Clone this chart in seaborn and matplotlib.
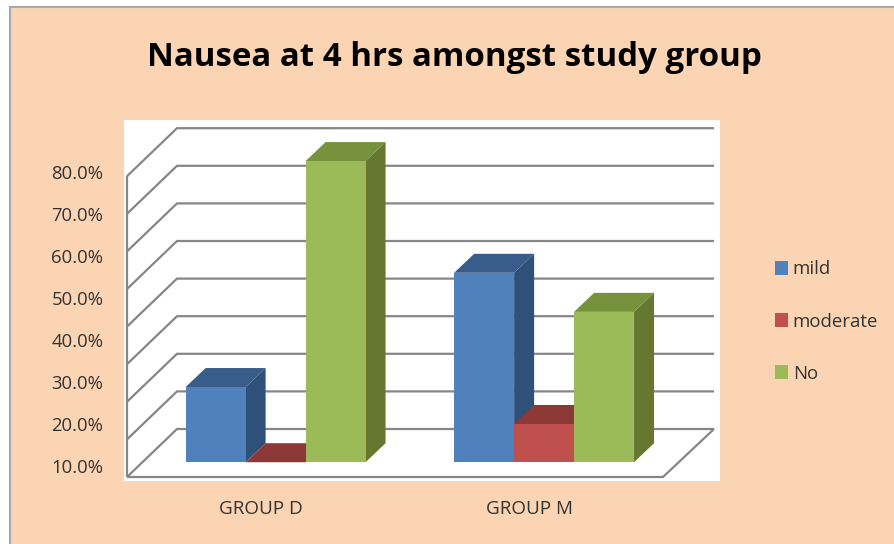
import matplotlib
matplotlib.use("Agg")
import matplotlib.pyplot as plt
import pandas as pd
import seaborn as sns
from matplotlib.patches import Polygon, Rectangle
from matplotlib.transforms import IdentityTransform

# Chart values
groups = ["GROUP D", "GROUP M"]
severity = ["mild", "moderate", "No"]
mild = [28.8, 56.0]
moderate = [10.9, 20.0]
no_nausea = [82.6, 46.7]
axis_ticks = [10, 20, 30, 40, 50, 60, 70, 80]
title = "Nausea at 4 hrs amongst study group"

# Face colours of each 3-D column: front, top, side
front = ["#4F81BD", "#C0504D", "#9BBB59"]
top = ["#385D8A", "#8C3836", "#76923C"]
side = ["#2F5079", "#8C3836", "#66782F"]

W, H = 894, 544
BASE_VALUE = 10.9      # column foot on the chart floor
DEPTH_X, DEPTH_Y = 20, 19  # column depth in pixels
GRID = "#868686"
TEXT = "#333333"

sns.set_theme(style="white")
plt.rcParams["font.family"] = ["Open Sans", "DejaVu Sans"]

fig = plt.figure(figsize=(W / 100, H / 100), dpi=100, facecolor="white")
# Chart area runs off the right and bottom of the canvas, so only two edges show
fig.patches.append(Rectangle((10 / W, -0.02), 1.02, 1.02 - 7 / H,
                             transform=fig.transFigure, facecolor="#FBD4B4",
                             edgecolor="#A8A8A8", linewidth=1.5, zorder=-1))

# Plot panel; data limits put the category and percentage scales on the panel
left, right, upper, lower = 123.5, 720, 120.5, 481
ax = fig.add_axes([left / W, 1 - lower / H, (right - left) / W, (lower - upper) / H])
ax.set_facecolor("white")
sns.despine(ax=ax, left=True, bottom=True, right=True, top=True)

table = pd.DataFrame({
    "group": groups * 3,
    "severity": [s for s in severity for _ in groups],
    "value": mild + moderate + no_nausea,
})
sns.barplot(data=table, x="group", y="value", hue="severity", order=groups,
            hue_order=severity, palette=front, saturation=1, width=0.67, gap=0,
            ax=ax, legend=True, linewidth=0, zorder=5)
ax.set_xlim((left - 275.6) / 268.5, (right - 275.6) / 268.5)
ax.set_ylim(10 + (466 - lower) / 4.2, 10 + (466 - upper) / 4.2)

screen = IdentityTransform()


def wall_line(xs, ys, **kw):
    ax.plot(xs, [H - y for y in ys], transform=screen, color=GRID, lw=1.6,
            clip_on=False, solid_joinstyle="miter", solid_capstyle="butt", zorder=2, **kw)


# Back wall, side wall and floor of the chart box
wall_x0, wall_x1, floor_x1, front_x = 177, 714, 663, 127
back_floor, front_floor, step = 429, 477, 37.6
for k in range(9):
    y_back = back_floor - k * step
    y_front = front_floor - k * step
    wall_line([front_x, wall_x0, wall_x1], [y_front, y_back, y_back])
wall_line([front_x, front_x], [front_floor, front_floor - 8 * step])
wall_line([front_x, floor_x1, wall_x1], [front_floor, front_floor, back_floor])

# Top and side faces are extruded from each column's front rectangle
for s, container in enumerate(ax.containers):
    for bar in container:
        value = bar.get_height()
        bar.set_y(BASE_VALUE)
        bar.set_height(value - BASE_VALUE)
        bar.set_zorder(5 + s)
        x0, x1 = bar.get_x(), bar.get_x() + bar.get_width()
        (ax0, ay1), (ax1, ay0) = ax.transData.transform([(x0, value), (x1, BASE_VALUE)])
        ax.add_patch(Polygon([(ax0, ay1), (ax1, ay1), (ax1 + DEPTH_X, ay1 + DEPTH_Y),
                              (ax0 + DEPTH_X, ay1 + DEPTH_Y)], closed=True,
                             transform=screen, facecolor=top[s], edgecolor="none",
                             clip_on=False, zorder=4.5 + s))
        ax.add_patch(Polygon([(ax1, ay0), (ax1, ay1), (ax1 + DEPTH_X, ay1 + DEPTH_Y),
                              (ax1 + DEPTH_X, ay0 + DEPTH_Y)], closed=True,
                             transform=screen, facecolor=side[s], edgecolor="none",
                             clip_on=False, zorder=4.5 + s))

ax.set_xlabel("")
ax.set_ylabel("")
ax.set_xticks([-0.054, 0.946], groups)
ax.set_yticks(axis_ticks, [f"{t:.1f}%" for t in axis_ticks])
ax.tick_params(axis="y", length=0, pad=14.5, labelsize=13.3, labelcolor=TEXT)
ax.tick_params(axis="x", length=0, pad=13.5, labelsize=13.6, labelcolor=TEXT)

handles, labels = ax.get_legend_handles_labels()
ax.legend(handles, labels, loc="upper left", bbox_to_anchor=(775 / W, 1 - 260.5 / H),
          bbox_transform=fig.transFigure, frameon=False, borderpad=0, borderaxespad=0,
          fontsize=13.4, labelcolor=TEXT, handlelength=0.68, handleheight=0.8,
          handletextpad=0.28, labelspacing=1.83)

fig.text(454.5 / W, 1 - 58 / H, title, ha="center", va="center", fontsize=23.8,
         fontweight="bold", color="black")

fig.savefig("out.png", dpi=100, facecolor=fig.get_facecolor())
